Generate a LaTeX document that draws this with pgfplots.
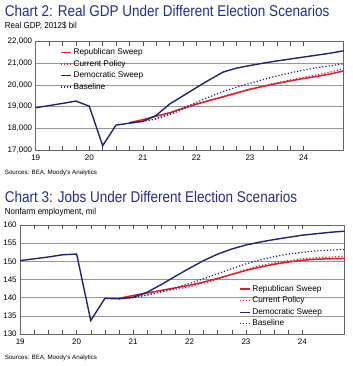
\documentclass[border=0pt]{standalone}
\usepackage{pgfplots}
\pgfplotsset{compat=1.18}
\usepackage{pgfplotstable}
\usepackage{fontspec}
\setmainfont{Liberation Sans}
\definecolor{ttl}{RGB}{35,45,140}
\definecolor{rep}{RGB}{225,30,40}
\definecolor{dem}{RGB}{30,35,120}
\definecolor{gridc}{RGB}{150,150,150}

\pgfplotstableread{
x dem rep cur base
19.00 18950 nan nan nan
19.25 19050 nan nan nan
19.50 19150 nan nan nan
19.75 19260 nan nan nan
20.00 19020 nan nan nan
20.25 17200 nan nan nan
20.50 18150 nan nan nan
20.75 18240 18260 18250 18250
21.00 18320 18400 18330 18320
21.25 18600 18560 18420 18450
21.50 19120 18720 18620 18680
21.75 19500 18920 18880 18950
22.00 19880 19120 19100 19200
22.25 20250 19290 19300 19460
22.50 20600 19450 19480 19700
22.75 20780 19630 19650 19900
23.00 20900 19800 19820 20080
23.25 21010 19940 19960 20250
23.50 21110 20070 20100 20420
23.75 21200 20190 20230 20560
24.00 21290 20300 20350 20690
24.25 21380 20400 20470 20800
24.50 21470 20510 20600 20890
24.75 21580 20650 20750 20980
}\gdp

\pgfplotstableread{
x dem rep cur base
19.00 150.2 nan nan nan
19.25 150.7 nan nan nan
19.50 151.2 nan nan nan
19.75 151.8 nan nan nan
20.00 152.0 nan nan nan
20.25 133.7 nan nan nan
20.50 139.8 nan nan nan
20.75 139.7 139.8 139.7 139.7
21.00 140.1 140.6 140.1 140.0
21.25 141.5 141.3 140.8 140.7
21.50 143.6 142.0 141.6 141.7
21.75 145.9 142.7 142.3 142.7
22.00 148.1 143.4 143.0 143.9
22.25 150.2 144.3 144.0 145.2
22.50 152.0 145.3 145.1 146.6
22.75 153.4 146.4 146.4 148.0
23.00 154.5 147.5 147.8 149.3
23.25 155.3 148.4 148.8 150.4
23.50 156.0 149.2 149.6 151.3
23.75 156.6 149.8 150.2 152.0
24.00 157.2 150.3 150.7 152.5
24.25 157.6 150.6 151.0 152.9
24.50 158.0 150.7 151.2 153.1
24.75 158.3 150.8 151.4 153.3
}\jobs

\pgfplotsset{
  chartstyle/.style={
    scale only axis,
    xmin=19, xmax=24.75,
    xtick={19,20,21,22,23,24},
    minor x tick num=3,
    tick align=inside,
    major tick length=4pt,
    minor tick length=4pt,
    ytick style={draw=none},
    xtick style={draw=black!70, line width=0.5pt},
    minor x tick style={draw=black!70, line width=0.5pt},
    ymajorgrids,
    grid style={gridc, line width=0.6pt},
    axis line style={draw=black!60, line width=0.6pt},
    /pgf/number format/assume math mode=true,
    tick label style={font=\fontsize{8}{9}\selectfont},
    xticklabel style={yshift=-1pt},
    legend style={draw=none, fill=none, font=\fontsize{8.3}{10}\selectfont,
      row sep=0pt, inner sep=1pt},
    legend cell align=left,
    legend image code/.code={\draw[##1] (0pt,0pt) -- (10pt,0pt);},
    unbounded coords=jump,
  },
}

\begin{document}
\begin{tikzpicture}
\path (0pt,0pt) rectangle (352pt,366pt);

% Chart 2 texts
\node[anchor=base west, inner sep=0, text=ttl] at (4pt,349pt) {\scalebox{1}[1.15]{\fontsize{13.5}{15}\selectfont Chart 2: Real GDP Under Different Election Scenarios}};
\node[anchor=base west, inner sep=0] at (4pt,337pt) {\scalebox{1}[1.1]{\fontsize{8}{9}\selectfont Real GDP, 2012\$ bil}};
\node[anchor=base west, inner sep=0] at (4pt,191pt) {\fontsize{6.2}{7}\selectfont Sources: BEA, Moody's Analytics};

\begin{axis}[chartstyle,
  at={(35pt,216pt)}, anchor=south west,
  width=308pt, height=108.3pt,
  ymin=17000, ymax=22000,
  ytick={17000,18000,...,22000},
  scaled y ticks=false,
  yticklabel style={/pgf/number format/.cd, 1000 sep={,}},
  legend style={at={(0.075,0.965)}, anchor=north west},
]
\addplot[rep, line width=1.5pt] table[x=x,y=rep] {\gdp};
\addlegendentry{Republican Sweep}
\addplot[rep, line width=1.2pt, dotted] table[x=x,y=cur] {\gdp};
\addlegendentry{Current Policy}
\addplot[dem, line width=1.4pt] table[x=x,y=dem] {\gdp};
\addlegendentry{Democratic Sweep}
\addplot[dem, line width=1.2pt, dotted] table[x=x,y=base] {\gdp};
\addlegendentry{Baseline}
\end{axis}

% Chart 3 texts
\node[anchor=base west, inner sep=0, text=ttl] at (4pt,163.3pt) {\scalebox{1}[1.15]{\fontsize{13.5}{15}\selectfont Chart 3: Jobs Under Different Election Scenarios}};
\node[anchor=base west, inner sep=0] at (4pt,151pt) {\scalebox{1}[1.1]{\fontsize{8}{9}\selectfont Nonfarm employment, mil}};
\node[anchor=base west, inner sep=0] at (4pt,6pt) {\fontsize{6.2}{7}\selectfont Sources: BEA, Moody's Analytics};

\begin{axis}[chartstyle,
  at={(19.5pt,32pt)}, anchor=south west,
  width=324.5pt, height=109pt,
  ymin=130, ymax=160,
  ytick={130,135,...,160},
  legend style={at={(0.67,0.475)}, anchor=north west},
]
\addplot[rep, line width=1.5pt] table[x=x,y=rep] {\jobs};
\addlegendentry{Republican Sweep}
\addplot[rep, line width=1.2pt, dotted] table[x=x,y=cur] {\jobs};
\addlegendentry{Current Policy}
\addplot[dem, line width=1.4pt] table[x=x,y=dem] {\jobs};
\addlegendentry{Democratic Sweep}
\addplot[dem, line width=1.2pt, dotted] table[x=x,y=base] {\jobs};
\addlegendentry{Baseline}
\end{axis}
\end{tikzpicture}
\end{document}
